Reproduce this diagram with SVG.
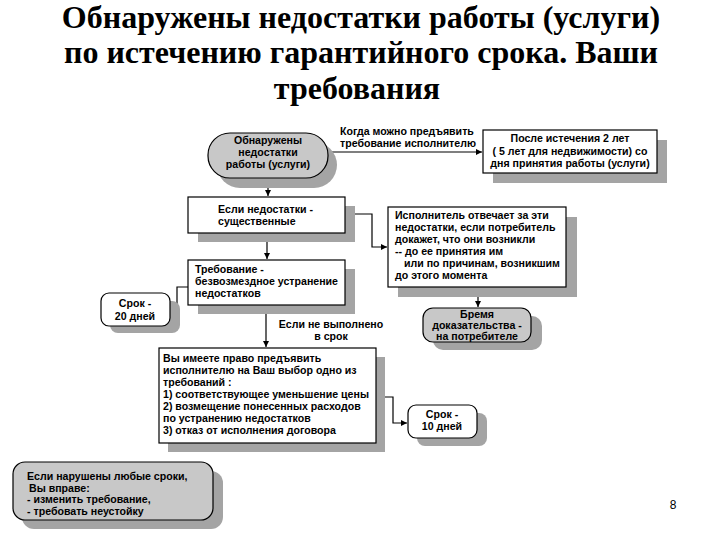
<svg xmlns="http://www.w3.org/2000/svg" width="720" height="540" viewBox="0 0 720 540">
<defs>
<marker id="ah" viewBox="0 0 8 8" refX="8" refY="4" markerWidth="6" markerHeight="6" orient="auto" markerUnits="userSpaceOnUse">
<path d="M0,0 L8,4 L0,8 z" fill="#000"/>
</marker>
</defs>
<style>
.t{font-family:"Liberation Sans",Arial,sans-serif;font-weight:bold;font-size:10.6px;fill:#000}
.sh{fill:#a4a4a4}
.wb{fill:#fff;stroke:#000;stroke-width:1.2}
.gb{fill:#c8c8c8;stroke:#000;stroke-width:1.2}
.c{fill:none;stroke:#000;stroke-width:1.2}
</style>
<rect width="720" height="540" fill="#fff"/>
<g id="title" font-family="Liberation Serif, Times New Roman, serif" font-weight="bold" font-size="32" fill="#000" text-anchor="middle">
<text x="361" y="28">Обнаружены недостатки работы (услуги)</text>
<text x="361" y="63">по истечению гарантийного срока. Ваши</text>
<text x="357" y="99">требования</text>
</g>
<g id="connectors">
<path class="c" d="M328,152 L482,152" marker-end="url(#ah)"/>
<path class="c" d="M268,178 L268,196" marker-end="url(#ah)"/>
<path class="c" d="M345,214 L372,214 L372,247 L387,247" marker-end="url(#ah)"/>
<path class="c" d="M267,233 L267,259" marker-end="url(#ah)"/>
<path class="c" d="M478,287 L478,307" marker-end="url(#ah)"/>
<path class="c" d="M188,287 L177,287 L177,310 L171,310" marker-end="url(#ah)"/>
<path class="c" d="M266,305 L266,347" marker-end="url(#ah)"/>
<path class="c" d="M377,397 L393,397 L393,423 L407,423" marker-end="url(#ah)"/>
</g>
<g id="n1">
<rect class="sh" x="217" y="142" width="120" height="46" rx="23"/>
<rect class="gb" x="208" y="133" width="120" height="45" rx="22"/>
<text class="t" x="268" y="144" text-anchor="middle">Обнаружены</text>
<text class="t" x="268" y="156" text-anchor="middle">недостатки</text>
<text class="t" x="268" y="168" text-anchor="middle" font-weight="normal">работы (услуги)</text>
</g>
<g id="lbl1">
<text class="t" x="340" y="135">Когда можно предъявить</text>
<text class="t" x="340" y="147">требование исполнителю</text>
</g>
<g id="n2">
<rect class="sh" x="493" y="140" width="174" height="43"/>
<rect class="wb" x="483" y="130" width="174" height="43"/>
<text class="t" x="570" y="142" text-anchor="middle">После истечения 2 лет</text>
<text class="t" x="570" y="155" text-anchor="middle">( 5 лет для недвижимости) со</text>
<text class="t" x="570" y="167" text-anchor="middle">дня принятия работы (услуги)</text>
</g>
<g id="n3">
<rect class="sh" x="198" y="206" width="157" height="36"/>
<rect class="wb" x="188" y="197" width="157" height="36"/>
<text class="t" x="218" y="213">Если недостатки -</text>
<text class="t" x="218" y="225">существенные</text>
</g>
<g id="n4">
<rect class="sh" x="398" y="217" width="179" height="80"/>
<rect class="wb" x="388" y="207" width="178" height="80"/>
<text class="t" x="395" y="219">Исполнитель отвечает за эти</text>
<text class="t" x="395" y="231">недостатки, если потребитель</text>
<text class="t" x="395" y="243">докажет, что они возникли</text>
<text class="t" x="395" y="255">-- до ее принятия им</text>
<text class="t" x="404" y="267">или по причинам, возникшим</text>
<text class="t" x="395" y="279">до этого момента</text>
</g>
<g id="n5">
<rect class="sh" x="198" y="269" width="157" height="45"/>
<rect class="wb" x="188" y="260" width="157" height="45"/>
<text class="t" x="195" y="273">Требование -</text>
<text class="t" x="195" y="285">безвозмездное устранение</text>
<text class="t" x="195" y="297">недостатков</text>
</g>
<g id="n6">
<rect class="sh" x="110" y="301" width="70" height="32" rx="8"/>
<rect class="wb" x="101" y="293" width="69" height="33" rx="8"/>
<text class="t" x="135" y="307" text-anchor="middle">Срок -</text>
<text class="t" x="135" y="320" text-anchor="middle">20 дней</text>
</g>
<g id="lbl2">
<text class="t" x="331" y="328" text-anchor="middle">Если не выполнено</text>
<text class="t" x="331" y="340" text-anchor="middle">в срок</text>
</g>
<g id="n7">
<rect class="sh" x="433" y="316" width="109" height="34" rx="10"/>
<rect class="gb" x="423" y="308" width="108" height="34" rx="10"/>
<text class="t" x="477" y="318" text-anchor="middle">Бремя</text>
<text class="t" x="477" y="329" text-anchor="middle">доказательства -</text>
<text class="t" x="477" y="340" text-anchor="middle">на потребителе</text>
</g>
<g id="n8">
<rect class="sh" x="168" y="357" width="217" height="95"/>
<rect class="wb" x="159" y="348" width="217" height="95"/>
<text class="t" x="163" y="362">Вы имеете право предъявить</text>
<text class="t" x="163" y="374">исполнителю на Ваш выбор одно из</text>
<text class="t" x="163" y="386">требований :</text>
<text class="t" x="163" y="398">1) соответствующее уменьшение цены</text>
<text class="t" x="163" y="410">2) возмещение понесенных расходов</text>
<text class="t" x="163" y="422">по устранению недостатков</text>
<text class="t" x="163" y="434">3) отказ от исполнения договора</text>
</g>
<g id="n9">
<rect class="sh" x="417" y="413" width="70" height="33" rx="8"/>
<rect class="wb" x="408" y="405" width="69" height="33" rx="8"/>
<text class="t" x="442" y="418" text-anchor="middle">Срок -</text>
<text class="t" x="442" y="430" text-anchor="middle">10 дней</text>
</g>
<g id="n10">
<rect class="sh" x="22" y="471" width="201" height="58" rx="12"/>
<rect class="gb" x="13" y="462" width="200" height="58" rx="12"/>
<text class="t" x="27" y="480">Если нарушены  любые сроки,</text>
<text class="t" x="29" y="492">Вы вправе:</text>
<text class="t" x="27" y="503">- изменить требование,</text>
<text class="t" x="27" y="515">- требовать неустойку</text>
</g>
<text x="673" y="509" font-family="Liberation Sans, Arial, sans-serif" font-size="12" text-anchor="middle">8</text>
</svg>
